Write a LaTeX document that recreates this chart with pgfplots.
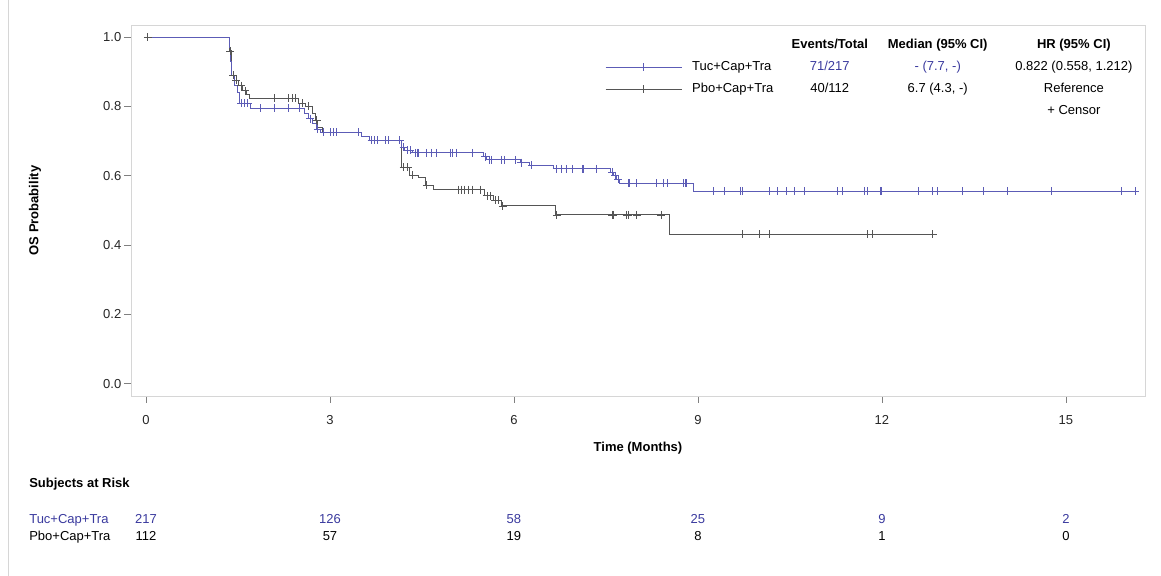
\documentclass[border=0pt]{standalone}
\usepackage{pgfplots}
\pgfplotsset{compat=1.18}
\usepackage{fontspec}
\setmainfont{Liberation Sans}
\definecolor{tuc}{RGB}{92,92,182}
\definecolor{tuctext}{RGB}{58,58,158}
\definecolor{pbo}{RGB}{85,85,85}
\definecolor{framegray}{RGB}{214,214,214}

% step curves (month, survival)
\pgfplotstableread{
x y
0 1.0
1.36 0.96
1.40 0.89
1.44 0.875
1.50 0.86
1.58 0.845
1.64 0.835
1.68 0.824
2.48 0.81
2.60 0.80
2.72 0.78
2.76 0.76
2.80 0.74
2.87 0.726
3.52 0.714
3.65 0.703
4.17 0.625
4.30 0.602
4.45 0.594
4.55 0.573
4.68 0.56
5.52 0.542
5.67 0.53
5.80 0.513
6.67 0.487
8.54 0.432
12.83 0.432
}\pbocurve

\pgfplotstableread{
x y
0 1.0
1.36 0.97
1.38 0.93
1.40 0.89
1.44 0.86
1.49 0.84
1.52 0.81
1.70 0.795
2.58 0.78
2.65 0.765
2.72 0.75
2.78 0.735
2.85 0.726
3.52 0.714
3.65 0.703
4.17 0.683
4.22 0.674
4.35 0.666
5.50 0.655
5.56 0.646
6.10 0.638
6.26 0.631
6.64 0.62
7.58 0.61
7.62 0.60
7.67 0.59
7.72 0.579
8.92 0.555
16.13 0.555
}\tuccurve

% censored observations
\pgfplotstableread{
x y
0.03 1.0
1.37 0.96
1.42 0.89
1.47 0.875
1.55 0.86
1.62 0.845
2.10 0.824
2.32 0.824
2.38 0.824
2.43 0.824
2.55 0.81
2.65 0.80
2.78 0.76
4.20 0.625
4.27 0.625
4.35 0.602
4.58 0.573
5.09 0.56
5.15 0.56
5.20 0.56
5.25 0.56
5.32 0.56
5.45 0.56
5.56 0.542
5.61 0.542
5.69 0.53
5.74 0.53
5.82 0.513
6.70 0.487
7.60 0.487
7.62 0.487
7.84 0.487
7.86 0.487
8.00 0.487
8.40 0.487
9.72 0.432
9.73 0.432
10.00 0.432
10.16 0.432
11.77 0.432
11.84 0.432
12.83 0.432
}\pbocens

\pgfplotstableread{
x y
1.55 0.81
1.60 0.81
1.66 0.81
1.86 0.795
2.10 0.795
2.32 0.795
2.50 0.795
2.68 0.765
2.80 0.735
2.90 0.726
3.00 0.726
3.05 0.726
3.10 0.726
3.46 0.726
3.68 0.703
3.73 0.703
3.78 0.703
3.90 0.703
3.95 0.703
4.14 0.703
4.20 0.683
4.27 0.674
4.31 0.674
4.39 0.666
4.42 0.666
4.44 0.666
4.58 0.666
4.66 0.666
4.74 0.666
4.96 0.666
5.00 0.666
5.07 0.666
5.33 0.666
5.53 0.655
5.60 0.646
5.64 0.646
5.80 0.646
5.85 0.646
6.02 0.646
6.12 0.638
6.29 0.631
6.70 0.62
6.78 0.62
6.86 0.62
6.95 0.62
7.11 0.62
7.13 0.62
7.35 0.62
7.60 0.61
7.65 0.60
7.70 0.59
7.86 0.579
7.89 0.579
8.00 0.579
8.33 0.579
8.43 0.579
8.50 0.579
8.76 0.579
8.79 0.579
8.82 0.579
9.25 0.555
9.44 0.555
9.69 0.555
9.72 0.555
10.17 0.555
10.29 0.555
10.45 0.555
10.57 0.555
10.73 0.555
11.28 0.555
11.36 0.555
11.72 0.555
11.77 0.555
11.98 0.555
12.00 0.555
12.60 0.555
12.83 0.555
12.90 0.555
13.32 0.555
13.65 0.555
14.04 0.555
14.77 0.555
15.91 0.555
16.13 0.555
}\tuccens

\begin{document}
\fontsize{6.5}{7.8}\selectfont
\begin{tikzpicture}[t/.style={text height=4.7pt, text depth=1.4pt, inner sep=0pt}]
\begin{axis}[
    scale only axis,
    width=507pt, height=185.5pt,
    xmin=-0.245, xmax=16.29,
    ymin=-0.035, ymax=1.035,
    xtick={0,3,6,9,12,15},
    ytick={0,0.2,0.4,0.6,0.8,1.0},
    y tick label style={/pgf/number format/.cd, fixed, fixed zerofill, precision=1, /tikz/.cd, xshift=1pt},
    /pgf/number format/assume math mode=true,
    tick align=outside, xtick pos=bottom, ytick pos=left,
    major tick length=3.5pt,
    axis line style={framegray},
    tick style={gray, line width=0.4pt},
    tick label style={font=\fontsize{6.5}{7.8}\selectfont, text=black!85},
    x tick label style={yshift=-4pt},
    label style={font=\fontsize{6.5}{7.8}\selectfont\bfseries},
    xlabel={Time (Months)},
    ylabel={OS Probability},
    xlabel style={at={(axis description cs:0.5,-0.14)}, anchor=center},
    ylabel style={at={(axis description cs:-0.0947,0.5)}, anchor=center},
    clip=false,
    legend style={at={(axis cs:7.48,0.938)}, anchor=north west, draw=none, fill=none,
        font=\fontsize{6.5}{7.8}\selectfont, row sep=3pt, inner sep=0pt,
        nodes={t, inner sep=1pt}},
    legend cell align=left,
    legend image code/.code={\draw[mark repeat=2,mark phase=2]
        plot coordinates {(0pt,0pt) (19pt,0pt) (38pt,0pt)};
        \path (42pt,0pt);},
]
\addlegendimage{tuc, line width=0.5pt, mark=+, mark size=2pt}
\addlegendentry{Tuc+Cap+Tra}
\addlegendimage{pbo, line width=0.5pt, mark=+, mark size=2pt}
\addlegendentry{Pbo+Cap+Tra}

\addplot[pbo, const plot, line width=0.5pt, forget plot] table {\pbocurve};
\addplot[pbo, only marks, mark=+, mark size=2pt, mark options={line width=0.45pt}, forget plot] table {\pbocens};
\addplot[tuc, const plot, line width=0.5pt, forget plot] table {\tuccurve};
\addplot[tuc, only marks, mark=+, mark size=2pt, mark options={line width=0.45pt}, forget plot] table {\tuccens};

% statistics table
\node[t, font=\fontsize{6.5}{7.8}\selectfont\bfseries] at (axis cs:11.15,0.978) {Events/Total};
\node[t, font=\fontsize{6.5}{7.8}\selectfont\bfseries] at (axis cs:12.91,0.978) {Median (95\% CI)};
\node[t, font=\fontsize{6.5}{7.8}\selectfont\bfseries] at (axis cs:15.13,0.978) {HR (95\% CI)};
\node[t, text=tuctext] at (axis cs:11.15,0.914) {71/217};
\node[t, text=tuctext] at (axis cs:12.91,0.914) {- (7.7, -)};
\node[t] at (axis cs:15.13,0.914) {0.822 (0.558, 1.212)};
\node[t] at (axis cs:11.15,0.85) {40/112};
\node[t] at (axis cs:12.91,0.85) {6.7 (4.3, -)};
\node[t] at (axis cs:15.13,0.85) {Reference};
\node[t] at (axis cs:15.13,0.786) {+ Censor};

% subjects at risk
\node[t, anchor=west, font=\fontsize{6.5}{7.8}\selectfont\bfseries] at (axis cs:-1.91,-0.29) {Subjects at Risk};
\node[t, anchor=west, text=tuctext] at (axis cs:-1.91,-0.394) {Tuc+Cap+Tra};
\node[t, anchor=west] at (axis cs:-1.91,-0.443) {Pbo+Cap+Tra};
\node[t, text=tuctext] at (axis cs:0,-0.394) {217};
\node[t, text=tuctext] at (axis cs:3,-0.394) {126};
\node[t, text=tuctext] at (axis cs:6,-0.394) {58};
\node[t, text=tuctext] at (axis cs:9,-0.394) {25};
\node[t, text=tuctext] at (axis cs:12,-0.394) {9};
\node[t, text=tuctext] at (axis cs:15,-0.394) {2};
\node[t] at (axis cs:0,-0.443) {112};
\node[t] at (axis cs:3,-0.443) {57};
\node[t] at (axis cs:6,-0.443) {19};
\node[t] at (axis cs:9,-0.443) {8};
\node[t] at (axis cs:12,-0.443) {1};
\node[t] at (axis cs:15,-0.443) {0};
\end{axis}
\draw[framegray, line width=0.4pt] ([shift={(-61.5pt,-90pt)}]current axis.south west) -- ++(0,288pt);
\pgfresetboundingbox
\path[use as bounding box] ([shift={(-65.5pt,-90pt)}]current axis.south west)
    rectangle ([shift={(515pt,198pt)}]current axis.south west);
\end{tikzpicture}
\end{document}
